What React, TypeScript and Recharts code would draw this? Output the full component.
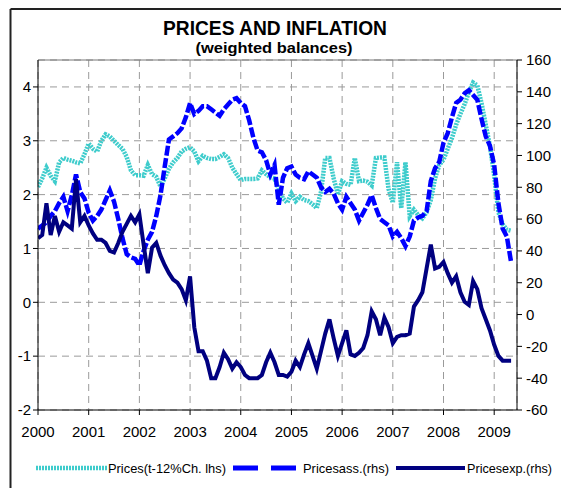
import { LineChart, Line, XAxis, YAxis, CartesianGrid, ReferenceLine } from "recharts";

// monthly observations, Jan 2000 .. May 2009
const startYear = 2000;

const yearTicks = [2000, 2001, 2002, 2003, 2004, 2005, 2006, 2007, 2008, 2009];
const leftTicks = [-2, -1, 0, 1, 2, 3, 4];
const rightTicks = [-60, -40, -20, 0, 20, 40, 60, 80, 100, 120, 140, 160];

// Prices (t-12 % ch., lhs)
const pricesChange = [
  2.14, 2.3, 2.5, 2.35, 2.25, 2.6, 2.68, 2.65, 2.63, 2.6,
  2.58, 2.75, 2.95, 2.85, 2.8, 3.0, 3.12, 3.08, 3.0, 2.92,
  2.85, 2.7, 2.45, 2.36, 2.36, 2.35, 2.55, 2.38, 2.33, 2.15,
  2.3, 2.48, 2.6, 2.68, 2.8, 2.85, 2.88, 2.8, 2.62, 2.72,
  2.68, 2.66, 2.66, 2.7, 2.75, 2.68, 2.5, 2.38, 2.27, 2.29,
  2.29, 2.29, 2.3, 2.45, 2.38, 2.32, 2.3, 2.1, 1.93, 1.85,
  2.02, 1.88, 1.96, 1.9, 1.88, 1.82, 1.75, 2.05, 2.68, 2.68,
  2.3, 2.0, 2.25, 2.2, 2.18, 2.68, 2.25, 2.26, 2.24, 2.17,
  2.68, 2.69, 2.69, 2.1, 1.85, 2.6, 1.75, 2.6, 1.6, 1.72,
  1.62, 1.56, 1.67, 1.9, 2.3, 2.55, 2.65, 2.85, 3.05, 3.3,
  3.5, 3.68, 3.9, 4.08, 4.03, 3.7, 3.3, 2.9, 2.35, 1.67,
  1.45, 1.35, 1.33,
];

// Prices assessment (rhs)
const pricesAss = [
  54, 56, 58, 62, 65, 70, 74, 65, 75, 88,
  77, 73, 64, 59, 62, 66, 72, 78, 71, 60,
  48, 38, 36, 35, 31, 40, 47, 52, 62, 75,
  93, 110, 112, 114, 117, 124, 133, 126, 128, 131,
  131, 129, 127, 125, 129, 132, 135, 136, 133, 131,
  122, 111, 103, 102, 97, 88, 94, 69, 86, 92,
  93, 88, 86, 85, 90, 88, 86, 80, 77, 79,
  76, 70, 66, 74, 70, 66, 59, 64, 69, 75,
  67, 60, 58, 56, 49, 52, 48, 43, 49, 59,
  61, 62, 65, 84, 92, 96, 108, 114, 124, 133,
  135, 139, 141, 138, 135, 123, 112, 106, 94, 70,
  54, 49, 33,
];

// Prices expectations (rhs)
const pricesExp = [
  48, 50, 70, 50, 62, 52, 58, 56, 54, 85,
  58, 62, 56, 51, 47, 47, 45, 40, 39, 45,
  52, 57, 62, 58, 63, 44, 26, 42, 45, 37,
  31, 26, 22, 20, 16, 9, 24, -8, -23, -23,
  -29, -40, -40, -33, -24, -28, -34, -30, -33, -38,
  -40, -40, -40, -38, -30, -24, -30, -38, -38, -39,
  -36, -29, -33, -25, -18, -26, -34, -23, -12, -3,
  -15, -26, -18, -10, -25, -26, -24, -21, -13, 2,
  -3, -13, -2, -8, -18, -14, -13, -13, -12, 5,
  9, 14, 29, 44, 29, 30, 33, 26, 20, 24,
  14, 8, 6, 21, 16, 4, -3, -10, -19, -26,
  -29, -29, -29,
];

const data = pricesChange.map((v, i) => ({
  x: startYear + i / 12,
  change: v,
  ass: pricesAss[i],
  exp: pricesExp[i],
}));

const font = "'Liberation Sans', Arial, sans-serif";
const narrow = "'Liberation Sans Narrow', 'Liberation Sans', Arial, sans-serif";
const tickStyle = { fontSize: 15, fill: "#000", fontFamily: font };

export default function App() {
  return (
    <div style={{ position: "absolute", left: 0, top: 0, width: 561, height: 488, background: "#fff", overflow: "hidden" }}>
      <div style={{ position: "absolute", left: 0, top: 0 }}>
        <LineChart
          width={561}
          height={440}
          data={data}
          margin={{ top: 60, right: 4, bottom: 0, left: 8 }}
          style={{ fontFamily: font }}
        >
          <CartesianGrid yAxisId="left" stroke="#9a9a9a" strokeDasharray="7 5" />
          <XAxis
            dataKey="x"
            type="number"
            domain={[2000, 2009.45]}
            ticks={yearTicks}
            allowDataOverflow
            height={30}
            tick={tickStyle}
            tickSize={5}
            tickMargin={11}
            stroke="#000"
          />
          <YAxis
            yAxisId="left"
            domain={[-2, 4.5]}
            ticks={leftTicks}
            allowDataOverflow
            width={30}
            tick={tickStyle}
            tickSize={5}
            tickMargin={2}
            stroke="#000"
          />
          <YAxis
            yAxisId="right"
            orientation="right"
            domain={[-60, 160]}
            ticks={rightTicks}
            allowDataOverflow
            width={40}
            tick={{ ...tickStyle, textAnchor: "start" }}
            tickSize={5}
            tickMargin={4}
            stroke="#000"
          />
          <ReferenceLine yAxisId="left" y={4.5} stroke="#777" />
          <Line
            yAxisId="left"
            dataKey="change"
            stroke="#3ecccc"
            strokeWidth={4.5}
            strokeDasharray="2 1"
            dot={false}
            isAnimationActive={false}
          />
          <Line
            yAxisId="right"
            dataKey="ass"
            stroke="#0000ff"
            strokeWidth={4.5}
            strokeDasharray="10 2.5"
            dot={false}
            isAnimationActive={false}
          />
          <Line
            yAxisId="right"
            dataKey="exp"
            stroke="#000080"
            strokeWidth={4}
            dot={false}
            isAnimationActive={false}
          />
        </LineChart>
      </div>
      <svg width={561} height={488} style={{ position: "absolute", left: 0, top: 0, pointerEvents: "none" }}>
        <line x1={10.5} y1={9} x2={561} y2={9} stroke="#222" strokeWidth={2} />
        <line x1={10.5} y1={9} x2={10.5} y2={488} stroke="#222" strokeWidth={2} />
        <text x={275} y={34.5} textAnchor="middle" fontFamily={narrow} fontWeight="bold" fontSize={20}
          textLength={224} lengthAdjust="spacingAndGlyphs">
          PRICES AND INFLATION
        </text>
        <text x={274} y={53} textAnchor="middle" fontFamily={narrow} fontWeight="bold" fontSize={15}
          textLength={157} lengthAdjust="spacingAndGlyphs">
          (weighted balances)
        </text>
        <line x1={36} y1={468} x2={107} y2={468} stroke="#3ecccc" strokeWidth={4.5} strokeDasharray="2 1" />
        <text x={108} y={473} fontFamily={narrow} fontSize={13.5} textLength={118} lengthAdjust="spacingAndGlyphs">
          Prices(t-12%Ch. lhs)
        </text>
        <line x1={233} y1={468} x2={296} y2={468} stroke="#0000ff" strokeWidth={5} strokeDasharray="25 13" />
        <text x={303} y={473} fontFamily={narrow} fontSize={13.5} textLength={86} lengthAdjust="spacingAndGlyphs">
          Pricesass.(rhs)
        </text>
        <line x1={396} y1={468} x2={465} y2={468} stroke="#000080" strokeWidth={4} />
        <text x={467} y={473} fontFamily={narrow} fontSize={13} textLength={85} lengthAdjust="spacingAndGlyphs">
          Pricesexp.(rhs)
        </text>
      </svg>
    </div>
  );
}
